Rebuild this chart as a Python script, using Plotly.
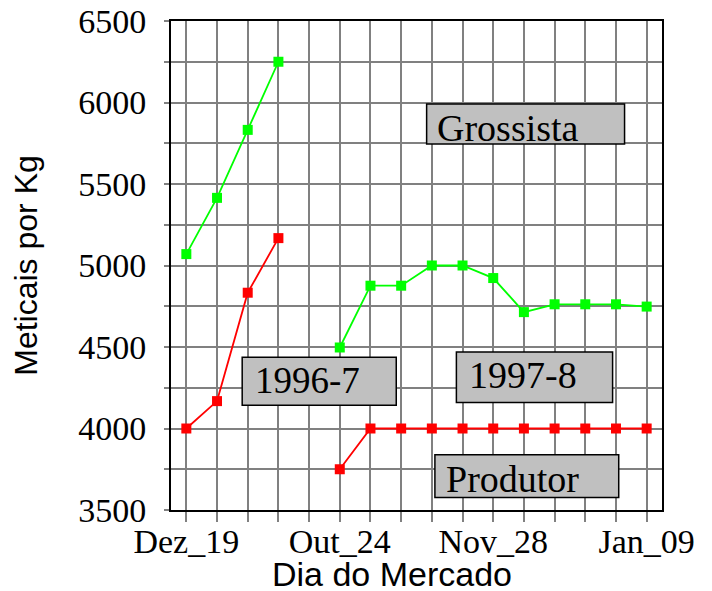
import plotly.graph_objects as go

# ---- data ----
day_index = list(range(16))
tick_labels = ["Dez_19", "", "", "", "", "Out_24", "", "", "", "", "Nov_28", "", "", "", "", "Jan_09"]

x_9697 = [0, 1, 2, 3]
grossista_9697 = [5070, 5415, 5832, 6250]
produtor_9697 = [4000, 4168, 4833, 5168]

x_9798 = [5, 6, 7, 8, 9, 10, 11, 12, 13, 14, 15]
grossista_9798 = [4497, 4876, 4876, 5000, 5000, 4923, 4714, 4762, 4762, 4762, 4748]
produtor_9798 = [3750, 4000, 4000, 4000, 4000, 4000, 4000, 4000, 4000, 4000, 4000]

y_ticks = [3500, 4000, 4500, 5000, 5500, 6000, 6500]
y_grid = [3500 + 250 * i for i in range(13)]

# labels: (text, box x0, x1, y0, y1, text x, text y, font size)
labels = [
    ("Grossista", 7.83, 14.28, 5746, 5991, 8.10, 5845, 38),
    ("1996-7", 1.82, 6.84, 4143, 4437, 2.18, 4295, 37),
    ("1997-8", 8.80, 13.89, 4159, 4470, 9.14, 4330, 38),
    ("Produtor", 8.10, 14.09, 3577, 3839, 8.39, 3693, 38),
]

GREEN = "#00ff00"
RED = "#ff0000"

fig = go.Figure()
for xs, ys, col in [(x_9697, grossista_9697, GREEN), (x_9697, produtor_9697, RED),
                    (x_9798, grossista_9798, GREEN), (x_9798, produtor_9798, RED)]:
    fig.add_trace(go.Scatter(
        x=xs, y=ys, mode="lines+markers",
        line=dict(color=col, width=1.8),
        marker=dict(symbol="square", size=10, color=col),
        showlegend=False, cliponaxis=False,
    ))

serif = "Liberation Serif, Times New Roman, serif"
sans = "Liberation Sans, Arial, sans-serif"

for text, x0, x1, y0, y1, tx, ty, fs in labels:
    fig.add_shape(type="rect", xref="x", yref="y", x0=x0, x1=x1, y0=y0, y1=y1,
                  fillcolor="#c0c0c0", line=dict(color="black", width=1.5), layer="above")
    fig.add_annotation(x=tx, y=ty, xref="x", yref="y", text=text, showarrow=False,
                       xanchor="left", yanchor="middle",
                       font=dict(family=serif, size=fs, color="black"))

# x-axis title
fig.add_annotation(x=6.69, y=0, xref="x", yref="paper", text="Dia do Mercado", showarrow=False,
                   xanchor="center", yanchor="top", yshift=-43,
                   font=dict(family=sans, size=34, color="black"))

fig.update_layout(
    width=712, height=591,
    margin=dict(l=163, r=58, t=13, b=89),
    paper_bgcolor="white", plot_bgcolor="white",
    font=dict(family=serif, color="black"),
)
fig.update_xaxes(
    range=[-0.5, 15.5], tickmode="array", tickvals=day_index, ticktext=tick_labels,
    ticks="outside", ticklen=10, tickwidth=1.5, tickcolor="#808080",
    showgrid=True, gridcolor="#808080", gridwidth=1.5,
    showline=True, linecolor="black", linewidth=2, mirror=True,
    zeroline=False, automargin=False, ticklabelstandoff=-10, ticklabeloverflow="allow",
    tickfont=dict(family=serif, size=34, color="black"),
)
fig.update_yaxes(
    range=[3500, 6500], tickmode="array", tickvals=y_grid,
    ticktext=[str(v) if v in y_ticks else "" for v in y_grid],
    ticks="outside", ticklen=5, tickwidth=1.5, tickcolor="#808080",
    showgrid=True, gridcolor="#808080", gridwidth=1.5,
    showline=True, linecolor="black", linewidth=2, mirror=True,
    zeroline=False, automargin=False, ticklabelstandoff=11, ticklabeloverflow="allow",
    tickfont=dict(family=serif, size=34, color="black"),
    title=dict(text="Meticais por Kg", font=dict(family=sans, size=32, color="black"), standoff=39),
)

fig.write_html("out.html")
